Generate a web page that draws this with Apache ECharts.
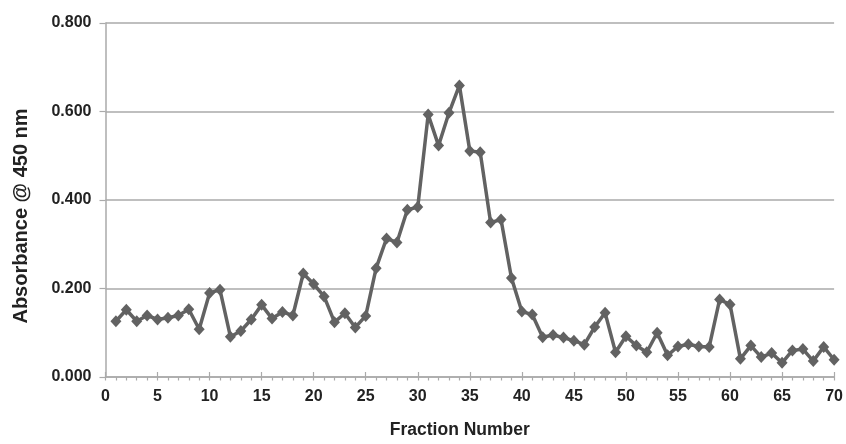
<!DOCTYPE html>
<html><head><meta charset="utf-8">
<script src="https://cdn.jsdelivr.net/npm/echarts@6/dist/echarts.min.js"></script>
<style>html,body{margin:0;padding:0;background:#fff}#c{width:846px;height:444px}</style>
</head><body><div id="c"></div>
<script>
const fractions = [1,2,3,4,5,6,7,8,9,10,11,12,13,14,15,16,17,18,19,20,21,22,23,24,25,26,27,28,29,30,31,32,33,34,35,36,37,38,39,40,41,42,43,44,45,46,47,48,49,50,51,52,53,54,55,56,57,58,59,60,61,62,63,64,65,66,67,68,69,70];
const absorbance = [0.126,0.152,0.126,0.139,0.130,0.134,0.139,0.153,0.108,0.190,0.197,0.091,0.104,0.130,0.163,0.132,0.147,0.139,0.234,0.210,0.182,0.124,0.144,0.112,0.138,0.246,0.313,0.304,0.378,0.384,0.593,0.523,0.597,0.659,0.511,0.508,0.349,0.356,0.224,0.148,0.141,0.090,0.095,0.089,0.082,0.073,0.113,0.145,0.056,0.092,0.071,0.056,0.100,0.049,0.069,0.074,0.069,0.068,0.175,0.164,0.041,0.071,0.045,0.054,0.032,0.060,0.063,0.036,0.068,0.039];
const xTitle = 'Fraction Number';
const yTitle = 'Absorbance @ 450 nm';

const chart = echarts.init(document.getElementById('c'), null, {renderer:'canvas'});
const font = 'Liberation Sans, Arial, sans-serif';
const axisGrey = '#aaa';
chart.setOption({
  animation:false,
  grid:{left:105.5, right:10, top:23, bottom:61.5, containLabel:false},
  xAxis:[{
    type:'value', min:0, max:70, interval:5, position:'bottom',
    name:xTitle, nameLocation:'middle', nameGap:44,
    nameTextStyle:{fontFamily:font, fontWeight:'bold', fontSize:17.5, color:'#222', padding:[0,20,0,0]},
    axisLine:{show:true, onZero:false, lineStyle:{color:axisGrey, width:1.5}},
    axisTick:{show:true, length:3.5, lineStyle:{color:axisGrey, width:1.2}},
    minorTick:{show:true, splitNumber:5, length:3.5, lineStyle:{color:axisGrey, width:1.2}},
    splitLine:{show:false},
    axisLabel:{fontFamily:font, fontWeight:'bold', fontSize:16, color:'#222', margin:12}
  },{
    type:'value', min:0, max:70, interval:5, position:'bottom', offset:0,
    axisLine:{show:false},
    axisTick:{show:true, inside:true, length:5, lineStyle:{color:axisGrey, width:1.2}},
    axisLabel:{show:false}, splitLine:{show:false}
  }],
  yAxis:{
    type:'value', min:0, max:0.8, interval:0.2,
    name:yTitle, nameLocation:'middle', nameGap:74, nameRotate:90,
    nameTextStyle:{fontFamily:font, fontWeight:'bold', fontSize:20, color:'#222', padding:[0,32,0,0]},
    axisLine:{show:true, lineStyle:{color:axisGrey, width:1.5}},
    axisTick:{show:true, inside:false, length:6, lineStyle:{color:axisGrey, width:1.2}},
    splitLine:{show:true, lineStyle:{color:axisGrey, width:1.5}},
    axisLabel:{fontFamily:font, fontWeight:'bold', fontSize:16, color:'#222', margin:14,
      formatter:v=>v.toFixed(3)}
  },
  series:[{
    type:'line',
    xAxisIndex:0,
    data:fractions.map((f,i)=>[f,absorbance[i]]),
    lineStyle:{color:'#626262', width:3.5},
    itemStyle:{color:'#626262'},
    symbol:'diamond', symbolSize:[11,12],
    showSymbol:true
  }]
});
</script></body></html>
